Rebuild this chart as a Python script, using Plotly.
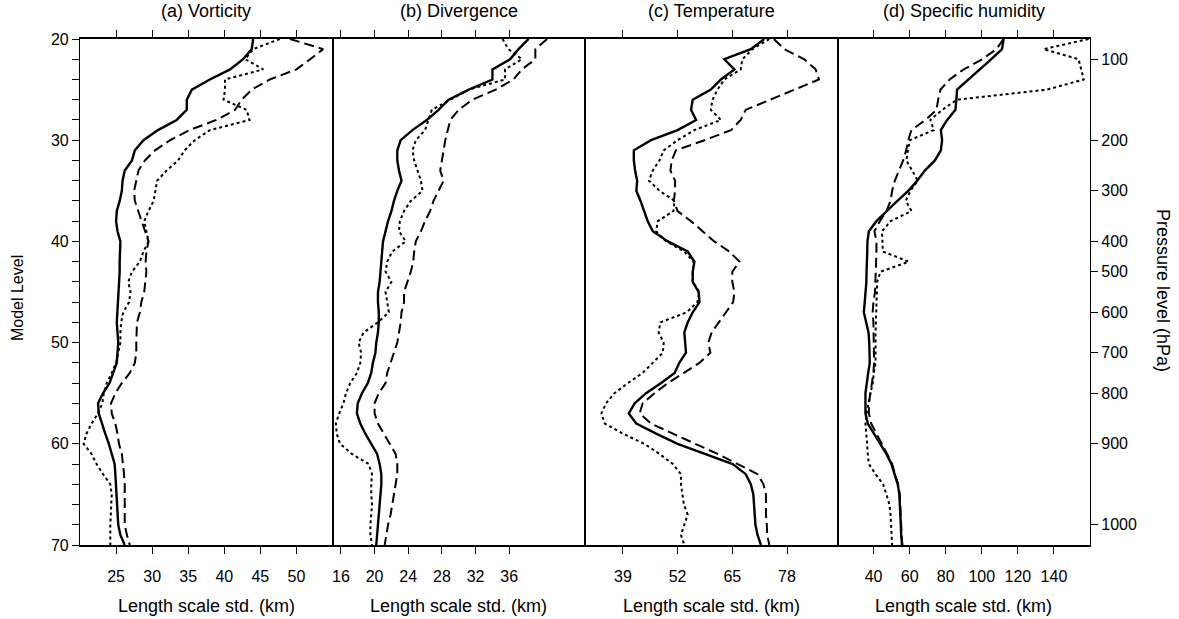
import plotly.graph_objects as go
from plotly.subplots import make_subplots

# Model levels 20..70
levels = list(range(20, 71))

# (a) Vorticity
vort_solid = [44.0, 43.8, 42.6, 40.8, 38.0, 35.5, 34.8, 34.8, 33.4, 30.8,
              28.8, 27.6, 27.2, 26.2, 25.9, 25.8, 25.5, 25.1, 25.0, 25.2,
              25.6, 25.5, 25.5, 25.5, 25.4, 25.4, 25.3, 25.1, 25.1, 25.2,
              25.3, 25.2, 25.1, 24.6, 24.1, 23.2, 22.5, 22.6, 23.0, 23.5,
              24.0, 24.4, 24.8, 24.9, 25.0, 25.1, 25.2, 25.2, 25.3, 25.6, 26.2]
vort_dashed = [49.1, 53.7, 51.9, 50.0, 46.3, 43.8, 42.4, 41.5, 38.9, 35.2,
               32.5, 30.4, 29.0, 28.1, 27.8, 27.5, 27.6, 28.1, 28.5, 29.1,
               29.5, 29.2, 29.1, 29.2, 29.0, 28.9, 28.5, 28.3, 27.9, 27.8,
               27.8, 27.8, 27.6, 26.9, 25.8, 24.9, 24.3, 24.4, 24.9, 25.2,
               25.4, 25.8, 26.0, 26.1, 26.2, 26.2, 26.2, 26.2, 26.2, 26.5, 26.9]
vort_dotted = [47.7, 44.0, 42.9, 45.4, 40.1, 40.1, 39.9, 43.1, 43.5, 38.0,
               35.9, 34.5, 33.6, 32.0, 30.7, 30.4, 30.2, 29.5, 28.9, 29.2,
               29.5, 28.8, 28.3, 27.2, 26.7, 27.0, 26.8, 26.0, 25.7, 25.6,
               25.6, 25.3, 25.0, 24.4, 23.7, 23.3, 23.1, 22.5, 21.6, 20.9,
               20.5, 21.6, 22.3, 23.2, 24.2, 24.4, 24.3, 24.3, 24.2, 24.2, 24.2]

# (b) Divergence
div_solid = [38.3, 37.1, 36.1, 34.0, 34.0, 31.2, 28.8, 27.6, 26.2, 24.5,
             23.1, 22.7, 22.7, 22.9, 23.2, 22.7, 22.3, 22.0, 21.6, 21.3,
             21.0, 20.9, 20.8, 20.7, 20.6, 20.4, 20.4, 20.5, 20.5, 20.4,
             20.2, 20.1, 19.8, 19.6, 19.2, 18.5, 18.0, 17.9, 18.3, 18.9,
             19.6, 20.3, 20.6, 20.8, 20.8, 20.7, 20.6, 20.5, 20.4, 20.3, 20.2]
div_dashed = [40.5, 39.1, 39.1, 37.5, 36.5, 34.4, 31.6, 30.0, 29.0, 28.7,
              28.4, 28.2, 28.0, 27.8, 28.2, 27.6, 27.0, 26.6, 26.0, 25.5,
              24.9, 24.7, 24.6, 24.3, 23.9, 23.5, 23.5, 23.2, 23.1, 22.9,
              22.7, 22.3, 21.9, 21.5, 21.3, 20.5, 20.0, 20.0, 20.4, 21.1,
              21.9, 22.5, 22.7, 22.7, 22.5, 22.3, 22.1, 21.9, 21.6, 21.4, 21.2]
div_dotted = [35.2, 35.9, 37.5, 35.5, 35.5, 31.2, 29.0, 26.8, 26.4, 26.0,
              24.9, 24.5, 24.7, 25.1, 25.5, 25.7, 24.3, 23.5, 23.0, 22.9,
              23.7, 22.1, 21.5, 21.3, 22.0, 21.3, 21.5, 21.7, 20.4, 18.7,
              18.1, 18.4, 18.3, 17.9, 17.1, 16.6, 16.3, 15.8, 15.4, 15.5,
              15.9, 17.3, 19.3, 19.7, 19.6, 19.6, 19.7, 19.6, 19.5, 19.5, 19.7]

# (c) Temperature
temp_solid = [72.6, 69.4, 63.1, 65.5, 62.3, 59.9, 55.6, 55.2, 56.4, 52.0,
              45.7, 41.6, 41.6, 41.9, 42.4, 42.2, 43.2, 44.1, 44.9, 46.1,
              49.7, 54.4, 56.0, 55.6, 55.6, 57.0, 57.2, 55.6, 54.4, 53.6,
              53.8, 54.0, 52.4, 51.3, 48.1, 44.5, 41.8, 40.4, 42.2, 46.9,
              52.0, 58.4, 65.1, 68.2, 69.4, 70.0, 70.2, 70.4, 70.5, 71.0, 71.8]
temp_dashed = [74.9, 77.3, 82.1, 84.8, 85.6, 79.7, 73.8, 68.2, 67.0, 64.7,
               58.4, 51.6, 50.6, 50.3, 51.4, 51.4, 51.1, 52.0, 55.2, 58.0,
               60.7, 64.3, 66.7, 65.0, 65.0, 65.5, 65.2, 63.5, 61.7, 60.1,
               59.3, 59.8, 57.2, 53.6, 49.7, 46.5, 43.7, 43.0, 45.7, 50.9,
               56.4, 61.5, 66.3, 71.0, 72.4, 73.0, 73.0, 73.0, 73.2, 73.3, 73.8]
temp_dotted = [73.8, 69.8, 67.4, 67.0, 63.1, 61.5, 60.3, 59.9, 62.3, 56.0,
               52.0, 48.7, 47.7, 46.1, 45.2, 47.7, 51.3, 51.0, 47.3, 46.9,
               49.3, 53.6, 55.8, 55.6, 55.6, 57.2, 56.7, 54.2, 47.9, 47.5,
               48.7, 48.5, 46.1, 43.7, 40.2, 37.0, 35.0, 33.9, 34.7, 39.0,
               44.1, 47.7, 50.9, 52.8, 52.8, 53.2, 53.5, 54.4, 53.6, 52.8, 53.6]

# (d) Specific humidity
hum_solid = [112.1, 111.2, 105.3, 99.0, 92.2, 86.3, 85.9, 85.4, 80.8, 77.3,
             78.0, 77.3, 74.0, 68.4, 64.2, 59.2, 53.2, 47.1, 41.6, 37.4,
             36.6, 36.5, 36.5, 36.1, 36.0, 35.7, 35.1, 34.6, 35.9, 37.2,
             37.6, 37.9, 37.9, 37.0, 36.1, 35.5, 35.5, 35.5, 36.8, 40.1,
             43.8, 47.1, 49.9, 51.7, 53.4, 54.3, 54.7, 54.9, 55.1, 55.3, 55.8]
hum_dashed = [112.1, 108.1, 100.2, 90.0, 82.2, 77.1, 75.8, 74.9, 68.8, 61.0,
              59.2, 58.1, 56.4, 54.0, 51.8, 50.3, 49.4, 47.1, 43.5, 40.5,
              41.6, 41.6, 41.4, 41.4, 41.2, 40.8, 39.9, 39.5, 39.9, 40.1,
              40.1, 40.3, 40.3, 39.9, 39.2, 38.1, 37.4, 37.4, 38.7, 41.6,
              44.7, 47.5, 50.3, 52.1, 53.6, 54.5, 54.9, 55.1, 55.3, 55.5, 56.0]
hum_dotted = [159.2, 134.3, 153.7, 155.0, 156.5, 136.2, 86.3, 78.0, 71.5, 73.4,
              60.1, 59.0, 58.2, 61.4, 64.5, 60.4, 57.9, 61.0, 49.4, 44.7,
              44.7, 45.1, 59.5, 43.8, 42.0, 41.8, 41.4, 41.1, 41.1, 41.1,
              41.1, 41.1, 41.1, 40.1, 39.6, 38.3, 37.2, 36.1, 35.5, 36.1,
              36.4, 36.8, 37.4, 41.1, 45.3, 47.1, 48.8, 49.4, 49.7, 49.9, 50.3]

panel_titles = ["(a) Vorticity", "(b) Divergence", "(c) Temperature", "(d) Specific humidity"]
x_ranges = [[20, 55], [15, 45], [30, 90], [20, 160]]
x_ticks = [[25, 30, 35, 40, 45, 50],
           [16, 20, 24, 28, 32, 36],
           [39, 52, 65, 78],
           [40, 60, 80, 100, 120, 140]]
x_title = "Length scale std. (km)"

pressure_levels = [22, 30, 35, 40, 43, 47, 51, 55, 60, 68]
pressure_labels = ["100", "200", "300", "400", "500", "600", "700", "800", "900", "1000"]

series = [
    (vort_solid, vort_dashed, vort_dotted),
    (div_solid, div_dashed, div_dotted),
    (temp_solid, temp_dashed, temp_dotted),
    (hum_solid, hum_dashed, hum_dotted),
]

FONT = "Liberation Sans, Arial, sans-serif"
TICK_FONT = dict(family=FONT, size=16, color="black")

fig = make_subplots(rows=1, cols=4, shared_yaxes=True, horizontal_spacing=0)

styles = [dict(width=2.4, dash="solid"),
          dict(width=2.0, dash="10px,5px"),
          dict(width=2.0, dash="3px,3px")]

for col, trio in enumerate(series, start=1):
    for vals, st in zip(trio, styles):
        fig.add_trace(go.Scatter(x=vals, y=levels, mode="lines",
                                 line=dict(color="black", **st),
                                 showlegend=False, hoverinfo="skip"),
                      row=1, col=col)
    fig.update_xaxes(range=x_ranges[col - 1], tickvals=x_ticks[col - 1],
                     ticks="outside", ticklen=7, tickwidth=1, tickcolor="black",
                     showline=True, linecolor="black", linewidth=1.5,
                     mirror="ticks", showgrid=False, zeroline=False,
                     ticklabelstandoff=9, tickfont=TICK_FONT,
                     row=1, col=col)
    fig.update_yaxes(range=[70, 20], showline=True, linecolor="black",
                     linewidth=1.2, mirror=True, showgrid=False, zeroline=False,
                     row=1, col=col)

# left model-level axis
fig.update_layout(yaxis=dict(tickvals=[20, 30, 40, 50, 60, 70], ticks="outside",
                             ticklen=7, tickcolor="black",
                             minor=dict(dtick=2, tick0=20, ticks="outside",
                                        ticklen=7, tickcolor="black"),
                             tickfont=TICK_FONT))
# right pressure axis on the last panel
fig.update_layout(yaxis4=dict(side="right", showticklabels=True,
                              tickvals=pressure_levels, ticktext=pressure_labels,
                              ticks="outside", ticklen=7, tickcolor="black",
                              tickfont=TICK_FONT))

annotations = []
for i, t in enumerate(panel_titles):
    xc = (i + 0.5) / 4
    annotations.append(dict(text=t, x=xc, y=1 + 28 / 506, xref="paper", yref="paper",
                            xanchor="center", yanchor="middle", showarrow=False,
                            font=dict(family=FONT, size=18, color="black")))
    annotations.append(dict(text=x_title, x=xc, y=-61 / 506, xref="paper", yref="paper",
                            xanchor="center", yanchor="middle", showarrow=False,
                            font=dict(family=FONT, size=18, color="black")))
annotations.append(dict(text="Model Level", x=-63 / 1010, y=0.488, xref="paper", yref="paper",
                        xanchor="center", yanchor="middle", textangle=-90, showarrow=False,
                        font=dict(family=FONT, size=16, color="black")))
annotations.append(dict(text="Pressure level (hPa)", x=1 + 73 / 1010, y=0.504,
                        xref="paper", yref="paper", xanchor="center", yanchor="middle",
                        textangle=90, showarrow=False,
                        font=dict(family=FONT, size=18, color="black")))

fig.update_layout(width=1179, height=619,
                  margin=dict(l=80, r=89, t=39, b=74),
                  paper_bgcolor="white", plot_bgcolor="white",
                  annotations=annotations,
                  font=dict(family=FONT, size=16, color="black"))

fig.write_html("out.html")
